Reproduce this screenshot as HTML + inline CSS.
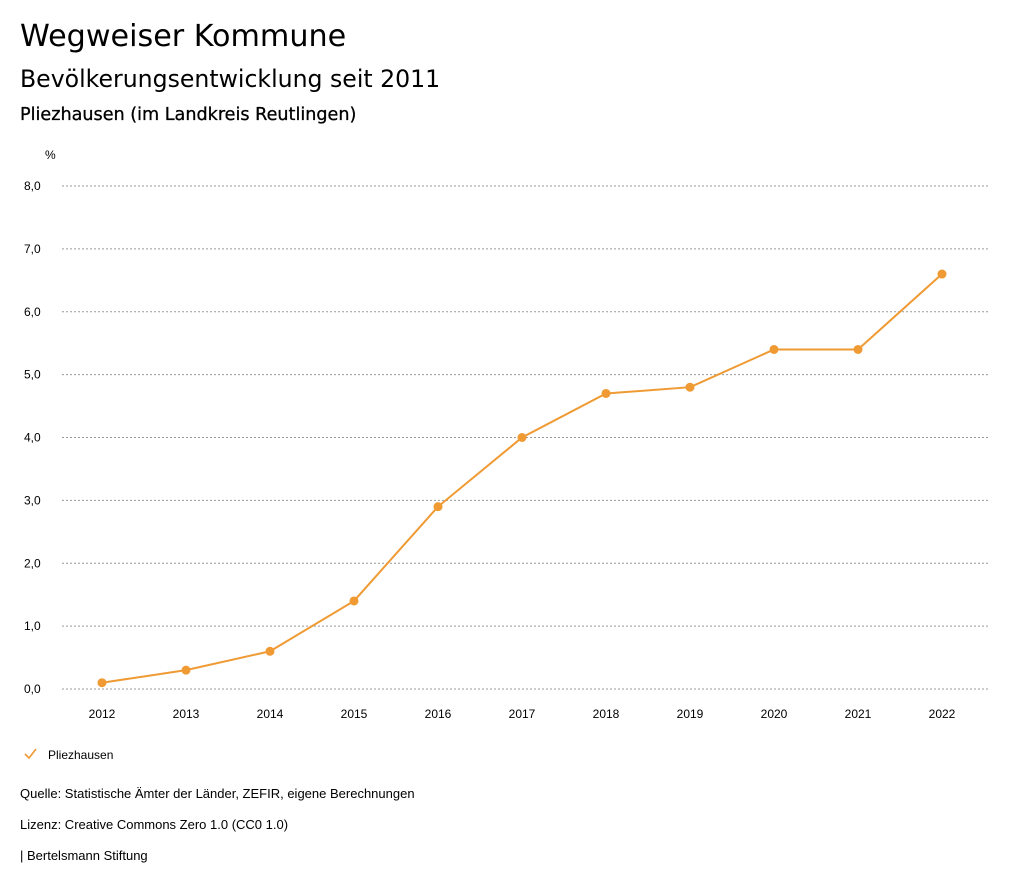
<!DOCTYPE html>
<html><head><meta charset="utf-8"><style>
body{margin:0;background:#fff;width:1024px;height:888px;overflow:hidden;font-family:"Liberation Sans","DejaVu Sans",sans-serif;color:#000}
.t{position:absolute;left:20px;white-space:nowrap}
</style></head><body>
<div class="t" style="top:19px;font-size:30.2px;font-family:'DejaVu Sans',sans-serif">Wegweiser Kommune</div>
<div class="t" style="top:65px;font-size:23.6px;font-family:'DejaVu Sans',sans-serif">Bevölkerungsentwicklung seit 2011</div>
<div class="t" style="top:105px;font-size:17.6px;font-family:'DejaVu Sans',sans-serif;-webkit-text-stroke:0.3px #000">Pliezhausen (im Landkreis Reutlingen)</div>
<svg id="chart" width="1024" height="888" style="position:absolute;left:0;top:0"></svg>
<div class="t" style="top:786px;font-size:13px">Quelle: Statistische Ämter der Länder, ZEFIR, eigene Berechnungen</div>
<div class="t" style="top:817px;font-size:13px">Lizenz: Creative Commons Zero 1.0 (CC0 1.0)</div>
<div class="t" style="top:848px;font-size:13px">| Bertelsmann Stiftung</div>
<script>
const years=["2012","2013","2014","2015","2016","2017","2018","2019","2020","2021","2022"];
const values=[0.1,0.3,0.6,1.4,2.9,4.0,4.7,4.8,5.4,5.4,6.6];
const yTicks=[0,1,2,3,4,5,6,7,8];
const NS="http://www.w3.org/2000/svg";
const svg=document.getElementById('chart');
const x=i=>102+i*84;
const y=v=>689-v*62.875;
function mk(tag,attrs,txt){const e=document.createElementNS(NS,tag);for(const k in attrs)e.setAttribute(k,attrs[k]);if(txt!=null)e.textContent=txt;svg.appendChild(e);return e;}
let u=mk('text',{x:45,y:159,'font-size':12,'font-family':'Liberation Sans,sans-serif'},'%');


yTicks.forEach(t=>{
 let g=mk('line',{x1:62,x2:990,y1:y(t),y2:y(t),stroke:'#999','stroke-dasharray':'2,2','stroke-width':1});
 
 
 let l=mk('text',{x:24,y:y(t)+4,'font-size':12,'font-family':'Liberation Sans,sans-serif'},t.toFixed(1).replace('.',','));
 
 
});
years.forEach((yr,i)=>{
 let l=mk('text',{x:x(i),y:718,'font-size':12,'text-anchor':'middle','font-family':'Liberation Sans,sans-serif'},yr);
 
 
});
let p=mk('polyline',{points:values.map((v,i)=>x(i)+','+y(v)).join(' '),fill:'none',stroke:'#ef9a33','stroke-width':2});


values.forEach((v,i)=>{
 let c=mk('circle',{cx:x(i),cy:y(v),r:4.5,fill:'#ef9a33'});
 
 
});
let lg=mk('polyline',{points:'25,754 29,758 36,749',fill:'none',stroke:'#ef9a33','stroke-width':1.6});


let lt=mk('text',{x:48,y:759,'font-size':12,'font-family':'Liberation Sans,sans-serif'},'Pliezhausen');


</script>
</body></html>
